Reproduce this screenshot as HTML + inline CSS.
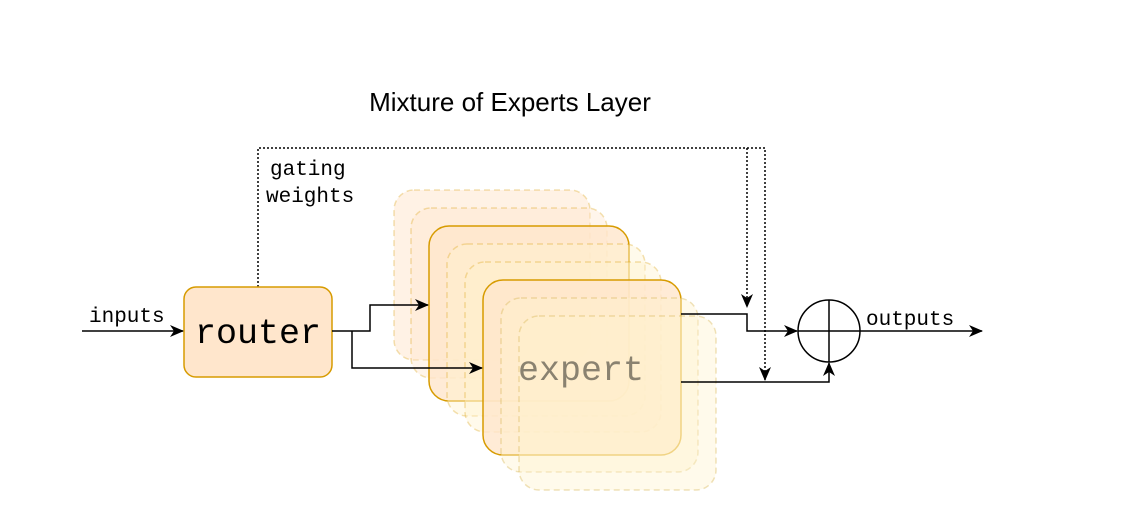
<!DOCTYPE html>
<html><head><style>body{margin:0;background:#fff}</style></head><body>
<svg width="1122" height="522" viewBox="0 0 1122 522" xmlns="http://www.w3.org/2000/svg">
<defs>
<marker id="a" markerWidth="14" markerHeight="14" refX="13" refY="7" orient="auto" markerUnits="userSpaceOnUse"><path d="M0,1 L14,7 L0,13 L4,7 Z" fill="#000"/></marker>
</defs>
<text x="510" y="111" font-family="Liberation Sans, sans-serif" font-size="26" text-anchor="middle">Mixture of Experts Layer</text>
<g fill="none" stroke="#000" stroke-width="1.5" stroke-dasharray="2,2">
<path d="M258,287 V148 H765 V380" marker-end="url(#a)"/>
<path d="M747,148 V307" marker-end="url(#a)"/>
</g>
<g font-family="Liberation Mono, monospace" font-size="21">
<text x="270" y="175">gating</text><text x="266" y="202">weights</text>
<text x="89" y="322">inputs</text><text x="866" y="325">outputs</text>
</g>
<rect x="184" y="287" width="148" height="90" rx="12" fill="#ffe6cc" stroke="#d79b00" stroke-width="1.5"/>
<text x="258" y="343" font-family="Liberation Mono, monospace" font-size="35" text-anchor="middle">router</text>
<g stroke-width="1.5">
<rect x="394" y="190" width="196" height="170" rx="20" fill="#ffe6cc" fill-opacity="0.5" stroke="#d79b00" stroke-opacity="0.3" stroke-dasharray="6,4"/>
<rect x="411" y="208" width="196" height="170" rx="20" fill="#ffe6cc" fill-opacity="0.4" stroke="#d79b00" stroke-opacity="0.3" stroke-dasharray="6,4"/>
<rect x="429" y="226" width="200" height="175" rx="20" fill="#ffe6cc" fill-opacity="0.8" stroke="#d79b00"/>
<rect x="447" y="244" width="198" height="172" rx="20" fill="#fff2cc" fill-opacity="0.4" stroke="#d79b00" stroke-opacity="0.3" stroke-dasharray="6,4"/>
<rect x="465" y="262" width="196" height="170" rx="20" fill="#fff2cc" fill-opacity="0.4" stroke="#d79b00" stroke-opacity="0.3" stroke-dasharray="6,4"/>
<rect x="483" y="280" width="198" height="175" rx="20" fill="#ffe6cc" fill-opacity="0.8" stroke="#d79b00"/>
<rect x="501" y="298" width="197" height="174" rx="20" fill="#fff2cc" fill-opacity="0.4" stroke="#d6b656" stroke-opacity="0.4" stroke-dasharray="6,4"/>
<rect x="519" y="316" width="197" height="174" rx="20" fill="#fff2cc" fill-opacity="0.4" stroke="#d6b656" stroke-opacity="0.4" stroke-dasharray="6,4"/>
</g>
<text x="581" y="380" font-family="Liberation Mono, monospace" font-size="35" fill="#8a8270" text-anchor="middle">expert</text>
<g fill="none" stroke="#000" stroke-width="1.5">
<path d="M82,331 H183" marker-end="url(#a)"/>
<path d="M332,331 H370 V305 H428" marker-end="url(#a)"/>
<path d="M352,331 V368 H482" marker-end="url(#a)"/>
<path d="M681,314 H747 V331 H797" marker-end="url(#a)"/>
<path d="M681,382 H829 V363" marker-end="url(#a)"/>
<path d="M860,331 H982" marker-end="url(#a)"/>
<circle cx="829" cy="331" r="31"/>
<path d="M798,331 H860 M829,300 V362"/>
</g>
</svg>
</body></html>
